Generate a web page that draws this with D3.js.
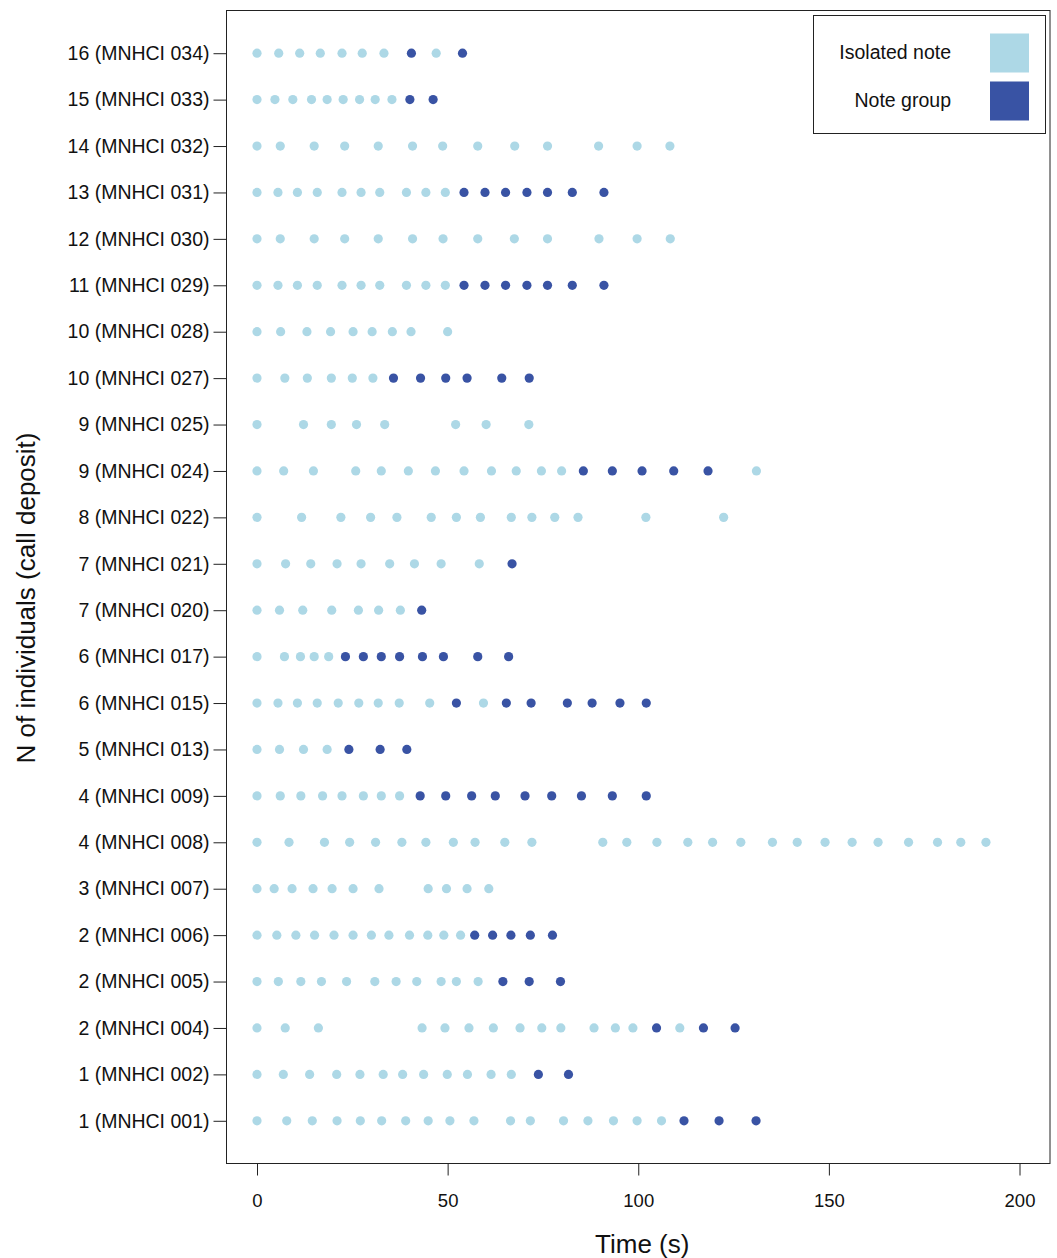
<!DOCTYPE html>
<html>
<head>
<meta charset="utf-8">
<script src="https://cdn.jsdelivr.net/npm/d3@7"></script>
<style>
  html, body { margin: 0; padding: 0; background: #fff; }
  svg { display: block; font-family: "Liberation Sans", Arial, Helvetica, sans-serif; }
</style>
</head>
<body>
<svg id="chart" width="1057" height="1258"></svg>
<script>
// Call deposits, bottom row first
const deposits = [
  "1 (MNHCI 001)", "1 (MNHCI 002)", "2 (MNHCI 004)", "2 (MNHCI 005)", "2 (MNHCI 006)",
  "3 (MNHCI 007)", "4 (MNHCI 008)", "4 (MNHCI 009)", "5 (MNHCI 013)", "6 (MNHCI 015)",
  "6 (MNHCI 017)", "7 (MNHCI 020)", "7 (MNHCI 021)", "8 (MNHCI 022)", "9 (MNHCI 024)",
  "9 (MNHCI 025)", "10 (MNHCI 027)", "10 (MNHCI 028)", "11 (MNHCI 029)", "12 (MNHCI 030)",
  "13 (MNHCI 031)", "14 (MNHCI 032)", "15 (MNHCI 033)", "16 (MNHCI 034)"
];

// Onset times (s) of isolated notes, one list per deposit (same order)
const isolatedNotes = [
  [0, 7.8, 14.5, 21.0, 27.1, 32.7, 39.0, 44.9, 50.6, 56.9, 66.5, 71.7, 80.4, 86.8, 93.5, 99.7, 106.1],
  [0, 6.9, 13.8, 20.9, 27.0, 33.1, 38.2, 43.7, 49.9, 55.2, 61.4, 66.7],
  [0, 7.4, 16.1, 43.3, 49.3, 55.6, 62.0, 69.0, 74.7, 79.7, 88.4, 94.0, 98.6, 110.9],
  [0, 5.6, 11.5, 16.9, 23.5, 30.9, 36.5, 41.9, 48.3, 52.3, 58.0],
  [0, 5.2, 10.2, 15.1, 20.2, 25.2, 30.0, 34.6, 40.0, 44.8, 49.0, 53.4],
  [0, 4.5, 9.2, 14.7, 19.7, 25.2, 32.0, 44.9, 49.7, 55.1, 60.8],
  [0, 8.4, 17.7, 24.3, 31.1, 38.0, 44.3, 51.5, 57.2, 65.0, 72.1, 90.7, 97.0, 104.9, 113.0,
   119.5, 126.9, 135.2, 141.7, 149.0, 156.1, 162.9, 170.9, 178.5, 184.6, 191.2],
  [0, 6.1, 11.5, 17.2, 22.3, 27.9, 32.6, 37.4],
  [0, 5.9, 12.2, 18.4],
  [0, 5.5, 10.6, 15.8, 21.3, 26.7, 31.8, 37.3, 45.3, 59.4],
  [0, 7.2, 11.4, 15.0, 18.8],
  [0, 5.9, 12.0, 19.6, 26.6, 31.9, 37.6],
  [0, 7.5, 14.1, 21.0, 27.3, 34.8, 41.3, 48.3, 58.3],
  [0, 11.7, 22.0, 29.8, 36.7, 45.7, 52.3, 58.6, 66.7, 72.1, 78.1, 84.2, 102.0, 122.4],
  [0, 7.0, 14.8, 25.9, 32.6, 39.7, 46.8, 54.3, 61.5, 68.0, 74.6, 79.9, 131.0],
  [0, 12.2, 19.5, 26.1, 33.5, 52.1, 60.1, 71.3],
  [0, 7.3, 13.2, 19.5, 25.0, 30.4],
  [0, 6.2, 13.1, 19.3, 25.2, 30.2, 35.5, 40.4, 50.0],
  [0, 5.5, 10.6, 15.8, 22.3, 27.3, 32.2, 39.2, 44.3, 49.4],
  [0, 6.1, 15.0, 23.0, 31.8, 40.8, 48.8, 57.9, 67.5, 76.2, 89.7, 99.7, 108.4],
  [0, 5.5, 10.6, 15.8, 22.3, 27.3, 32.2, 39.2, 44.3, 49.4],
  [0, 6.1, 15.0, 23.0, 31.8, 40.8, 48.7, 57.9, 67.6, 76.2, 89.6, 99.7, 108.3],
  [0, 4.7, 9.4, 14.3, 18.4, 22.6, 26.9, 31.0, 35.4],
  [0, 5.7, 11.2, 16.6, 22.3, 27.6, 33.3, 47.0]
];

// Onset times (s) of notes belonging to note groups
const groupNotes = [
  [112.0, 121.2, 130.9],
  [73.8, 81.7],
  [104.8, 117.1, 125.4],
  [64.5, 71.4, 79.6],
  [57.1, 61.8, 66.6, 71.7, 77.5],
  [],
  [],
  [42.8, 49.5, 56.3, 62.5, 70.3, 77.3, 85.1, 93.2, 102.1],
  [24.1, 32.3, 39.3],
  [52.3, 65.4, 71.9, 81.4, 87.9, 95.2, 102.1],
  [23.2, 27.9, 32.6, 37.4, 43.4, 48.9, 57.9, 66.0],
  [43.2],
  [66.9],
  [],
  [85.6, 93.2, 101.0, 109.3, 118.3],
  [],
  [35.8, 42.9, 49.5, 55.1, 64.2, 71.4],
  [],
  [54.3, 59.8, 65.2, 70.8, 76.2, 82.7, 91.0],
  [],
  [54.3, 59.8, 65.2, 70.8, 76.2, 82.7, 91.0],
  [],
  [40.1, 46.2],
  [40.5, 53.9]
];

const timeTicks = [0, 50, 100, 150, 200];
const noteTypes = ["Isolated note", "Note group"];
const noteColors = ["#add8e6", "#3953a4"];

// ---- drawing ----
const svg = d3.select("#chart");
const box = { left: 226.5, right: 1050, top: 10.5, bottom: 1163.5 };

const x = d3.scaleLinear().domain([-8, 208]).range([box.left, box.right]);
const y = d3.scaleLinear().domain([0.08, deposits.length + 0.92]).range([box.bottom, box.top]);
const color = d3.scaleOrdinal().domain(noteTypes).range(noteColors);

// points: flatten both note kinds per deposit
const points = [];
deposits.forEach((d, i) => {
  isolatedNotes[i].forEach(t => points.push({ row: i + 1, t, type: noteTypes[0] }));
  groupNotes[i].forEach(t => points.push({ row: i + 1, t, type: noteTypes[1] }));
});

svg.append("g")
  .selectAll("circle")
  .data(points)
  .join("circle")
  .attr("cx", d => x(d.t))
  .attr("cy", d => y(d.row))
  .attr("r", 4.6)
  .attr("fill", d => color(d.type));

// x axis
const xAxis = svg.append("g")
  .attr("transform", `translate(0,${box.bottom})`)
  .call(d3.axisBottom(x).tickValues(timeTicks).tickSize(12).tickPadding(18));
xAxis.select(".domain").remove();
xAxis.selectAll("line").attr("stroke", "#222");
xAxis.selectAll("text").attr("font-size", 18.5).attr("fill", "#111")
  .attr("font-family", "Liberation Sans, Arial, sans-serif");

// y axis
const yAxis = svg.append("g")
  .attr("transform", `translate(${box.left},0)`)
  .call(d3.axisLeft(y).tickValues(d3.range(1, deposits.length + 1))
    .tickFormat(i => deposits[i - 1]).tickSize(13).tickPadding(4));
yAxis.select(".domain").remove();
yAxis.selectAll("line").attr("stroke", "#222");
yAxis.selectAll("text").attr("font-size", 19.5).attr("fill", "#111")
  .attr("font-family", "Liberation Sans, Arial, sans-serif");

// plot frame
svg.append("rect")
  .attr("x", box.left).attr("y", box.top)
  .attr("width", box.right - box.left).attr("height", box.bottom - box.top)
  .attr("fill", "none").attr("stroke", "#222").attr("stroke-width", 1);

// axis titles
svg.append("text")
  .attr("x", (box.left + box.right) / 2 + 4).attr("y", 1253)
  .attr("text-anchor", "middle").attr("font-size", 26).attr("fill", "#111")
  .text("Time (s)");

svg.append("text")
  .attr("transform", `translate(17,${(box.top + box.bottom) / 2 + 11}) rotate(-90)`)
  .attr("text-anchor", "middle").attr("font-size", 26).attr("fill", "#111")
  .attr("dy", "0.71em")
  .text("N of individuals (call deposit)");

// legend
const legend = svg.append("g");
legend.append("rect")
  .attr("x", 813.5).attr("y", 15.5).attr("width", 232).attr("height", 118)
  .attr("fill", "#fff").attr("stroke", "#222");
noteTypes.forEach((name, i) => {
  const cy = 53 + i * 48;
  legend.append("rect")
    .attr("x", 990).attr("y", cy - 19.5).attr("width", 39).attr("height", 39)
    .attr("fill", color(name));
  legend.append("text")
    .attr("x", 951).attr("y", cy - 0.5).attr("dy", "0.35em")
    .attr("text-anchor", "end").attr("font-size", 19.5).attr("fill", "#111")
    .text(name);
});
</script>
</body>
</html>
